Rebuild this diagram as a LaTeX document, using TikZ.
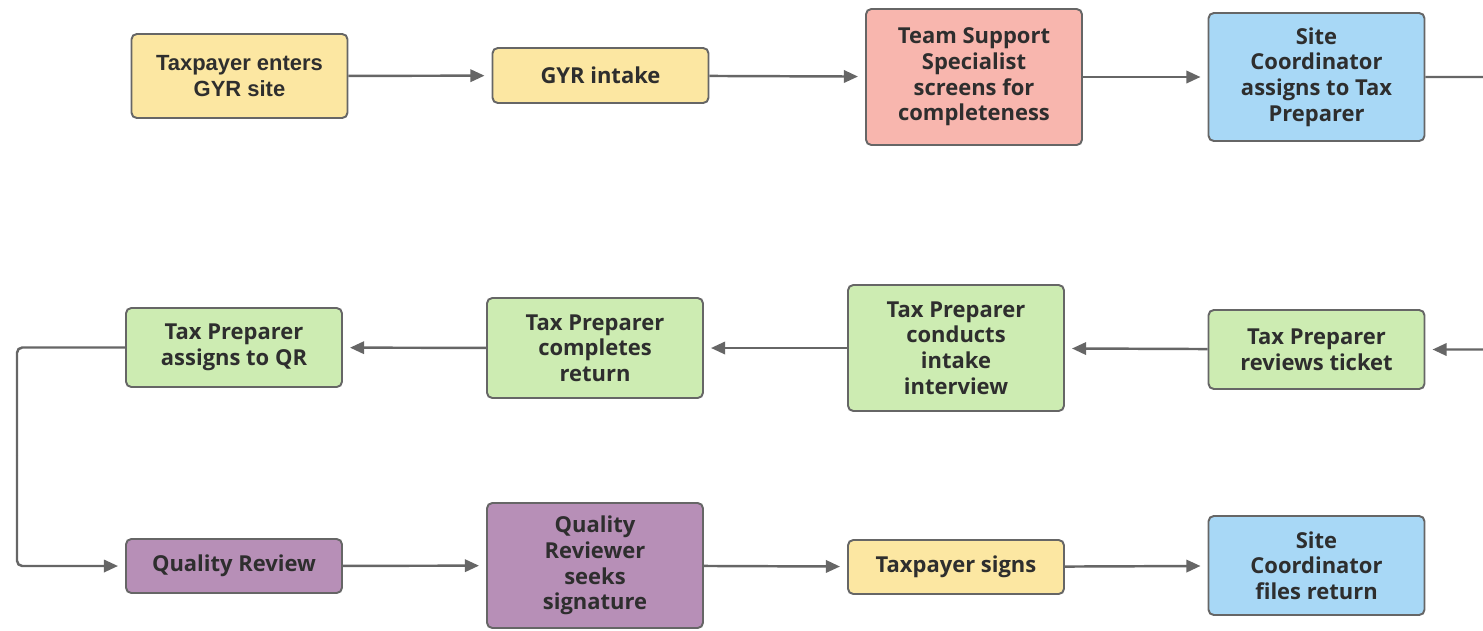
\documentclass[tikz,border=0pt]{standalone}
\usepackage{fontspec}
\setmainfont{Open Sans}
\newfontfamily\arialfont{Liberation Sans}
\usetikzlibrary{arrows.meta, positioning}

\definecolor{gyrYellow}{HTML}{FCE7A2}
\definecolor{tssPink}{HTML}{F8B6AE}
\definecolor{scBlue}{HTML}{A8D8F6}
\definecolor{tpGreen}{HTML}{CDECB2}
\definecolor{qrPurple}{HTML}{B78FB7}
\definecolor{edgeGray}{HTML}{666666}
\definecolor{txtDark}{HTML}{2E2E2E}

\begin{document}
\begin{tikzpicture}[
    font=\fontsize{12.5}{14.6}\selectfont\bfseries,
    box/.style={rectangle, rounded corners=3pt, draw=edgeGray, line width=1.1pt,
                text=txtDark, minimum width=4.32cm, text centered, align=center,
                inner sep=2pt},
    intake/.style={box, fill=gyrYellow},
    screen/.style={box, fill=tssPink},
    coord/.style={box, fill=scBlue},
    prep/.style={box, fill=tpGreen},
    review/.style={box, fill=qrPurple},
    arr/.style={-{Triangle[length=8pt, width=7pt]}, line width=1.4pt, draw=edgeGray,
                shorten >=4pt},
    link/.style={line width=1.4pt, draw=edgeGray, rounded corners=3pt}
  ]

  \useasboundingbox (0,0) rectangle (29.66,-12.6);
  \clip (0,0) rectangle (29.66,-12.6);

  % Top row
  \node[intake, minimum height=1.68cm, font=\arialfont\fontsize{12.5}{14.6}\selectfont\bfseries]
                  (enter)   at ( 4.79,-1.52) {Taxpayer enters\\GYR site};
  \node[intake, minimum height=1.10cm] (gyr)     at (12.01,-1.51) {GYR intake};
  \node[screen, minimum height=2.72cm] (tss)     at (19.48,-1.54) {Team Support\\Specialist\\screens for\\completeness};
  \node[coord,  minimum height=2.56cm] (assign)  at (26.33,-1.54) {Site\\Coordinator\\assigns to Tax\\Preparer};

  % Middle row
  \node[prep, minimum height=1.58cm] (ticket)    at (26.33,-6.99) {Tax Preparer\\reviews ticket};
  \node[prep, minimum height=2.52cm] (interview) at (19.12,-6.96) {Tax Preparer\\conducts\\intake\\interview};
  \node[prep, minimum height=2.00cm] (complete)  at (11.90,-6.96) {Tax Preparer\\completes\\return};
  \node[prep, minimum height=1.58cm] (toqr)      at ( 4.68,-6.95) {Tax Preparer\\assigns to QR};

  % Bottom row
  \node[review, minimum height=1.08cm] (qreview) at ( 4.68,-11.32) {Quality Review};
  \node[review, minimum height=2.50cm] (seeks)   at (11.90,-11.31) {Quality\\Reviewer\\seeks\\signature};
  \node[intake, minimum height=1.08cm] (signs)   at (19.12,-11.34) {Taxpayer signs};
  \node[coord,  minimum height=1.98cm] (files)   at (26.33,-11.31) {Site\\Coordinator\\files return};

  % turning points of the two wrap-around connectors
  \coordinate (rturn) at (30.2,-4.2);
  \coordinate (lturn) at (0.34,-9.1);

  % Top row flow
  \draw[arr] (enter)  -- (gyr);
  \draw[arr] (gyr)    -- (tss);
  \draw[arr] (tss)    -- (assign);

  % Down the right side, then back to the left
  \draw[link] (assign.east) -| (rturn);
  \draw[arr, rounded corners=3pt] (rturn) |- (ticket.east);
  \draw[arr] (ticket)    -- (interview);
  \draw[arr] (interview) -- (complete);
  \draw[arr] (complete)  -- (toqr);

  % Down the left side
  \draw[link] (toqr.west) -| (lturn);
  \draw[arr, rounded corners=3pt] (lturn) |- (qreview.west);

  % Bottom row flow
  \draw[arr] (qreview) -- (seeks);
  \draw[arr] (seeks)   -- (signs);
  \draw[arr] (signs)   -- (files);

\end{tikzpicture}
\end{document}
